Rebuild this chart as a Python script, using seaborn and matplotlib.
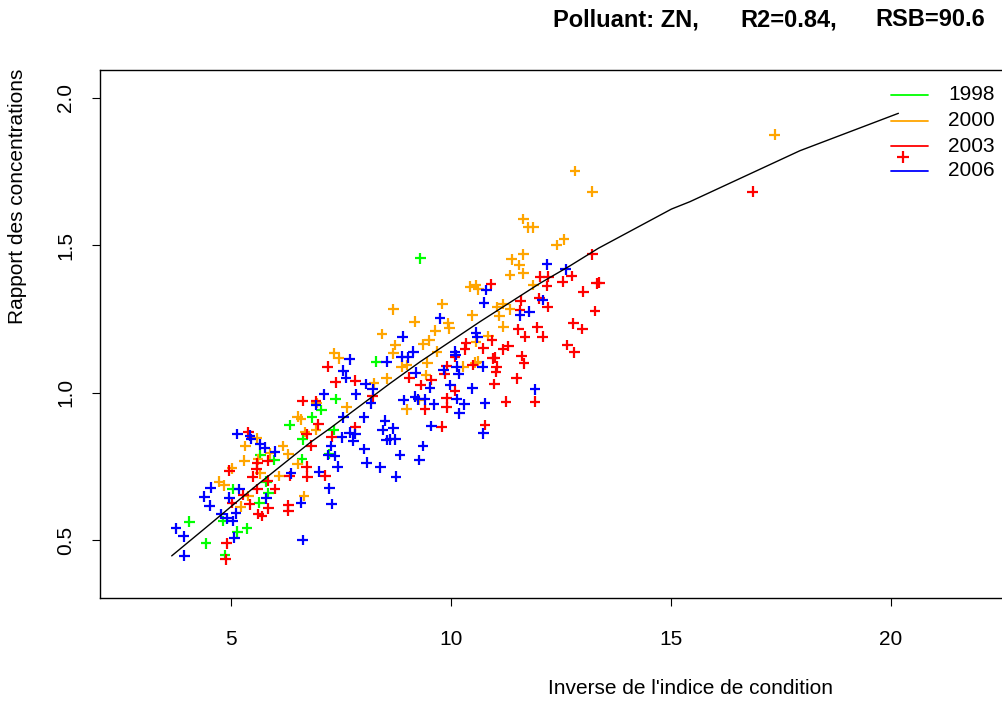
import pandas as pd
import matplotlib
matplotlib.use("Agg")
import matplotlib.pyplot as plt
from matplotlib.lines import Line2D
import seaborn as sns

# années et couleurs (style R)
years = ["1998", "2000", "2003", "2006"]
colors = ["#00FF00", "#FFA500", "#FF0000", "#0000FF"]

x_1998 = [6.84, 6.33, 6.63, 5.66, 5.98, 6.61, 5.04, 5.85, 5.64, 4.82, 4.05, 5.14,
          5.36, 4.43, 4.86, 5.80, 8.30, 7.38, 7.05, 7.33, 7.23, 9.30]
y_1998 = [0.916, 0.890, 0.842, 0.788, 0.771, 0.774, 0.673, 0.658, 0.626, 0.564, 0.562, 0.528,
          0.540, 0.489, 0.449, 0.698, 1.105, 0.978, 0.941, 0.873, 0.792, 1.456]

x_2000 = [6.51, 6.59, 5.58, 5.32, 6.18, 5.89, 6.30, 5.30, 5.61, 6.51, 5.02, 5.66,
          6.10, 4.73, 4.85, 5.39, 5.22, 6.66, 8.43, 7.35, 7.45, 8.25, 8.54, 6.95,
          6.68, 6.93, 7.63, 9.80, 8.69, 10.48, 9.17, 9.94, 9.96, 9.64, 8.73, 9.36,
          9.51, 10.57, 9.68, 8.69, 8.88, 8.99, 9.46, 10.28, 10.55, 10.62, 9.43, 9.28,
          8.99, 11.64, 11.76, 11.87, 12.57, 12.40, 11.38, 11.64, 11.55, 11.34, 11.64, 10.43,
          10.57, 10.62, 11.87, 11.05, 11.19, 11.34, 11.10, 11.19, 10.85, 12.82, 13.21, 17.36]
y_2000 = [0.918, 0.910, 0.845, 0.819, 0.819, 0.794, 0.792, 0.769, 0.774, 0.758, 0.743, 0.726,
          0.717, 0.698, 0.686, 0.649, 0.613, 0.649, 1.199, 1.133, 1.116, 1.032, 1.049, 0.965,
          0.866, 0.873, 0.950, 1.301, 1.283, 1.263, 1.241, 1.235, 1.218, 1.210, 1.162, 1.164,
          1.178, 1.173, 1.139, 1.133, 1.088, 1.094, 1.101, 1.088, 1.101, 1.105, 1.060, 0.975,
          0.943, 1.589, 1.561, 1.561, 1.520, 1.501, 1.452, 1.470, 1.433, 1.399, 1.405, 1.359,
          1.365, 1.351, 1.365, 1.291, 1.301, 1.283, 1.260, 1.224, 1.192, 1.752, 1.682, 1.876]

x_2003 = [5.39, 6.72, 5.83, 6.72, 5.60, 4.96, 5.58, 5.49, 6.33, 6.73, 5.83, 5.60,
          6.00, 5.28, 5.42, 5.02, 6.30, 5.85, 6.30, 5.62, 5.70, 4.90, 4.88, 7.20,
          7.38, 7.82, 8.22, 6.63, 6.93, 6.98, 7.29, 6.82, 7.14, 7.82, 10.34, 10.32,
          10.49, 9.90, 9.86, 9.05, 9.55, 9.31, 10.09, 9.90, 9.90, 9.41, 9.79, 12.02,
          12.21, 12.54, 12.18, 10.91, 12.01, 12.20, 11.58, 11.57, 11.53, 11.68, 11.96, 12.08,
          10.93, 10.73, 11.30, 11.18, 10.09, 10.95, 11.00, 11.04, 11.02, 10.98, 11.61, 11.66,
          11.49, 11.25, 11.91, 10.77, 12.64, 13.21, 12.74, 13.01, 13.31, 13.37, 13.27, 12.78,
          12.98, 12.80, 16.86]
y_2003 = [0.865, 0.860, 0.769, 0.749, 0.760, 0.735, 0.740, 0.715, 0.717, 0.715, 0.701, 0.673,
          0.673, 0.653, 0.621, 0.626, 0.619, 0.607, 0.598, 0.588, 0.581, 0.489, 0.434, 1.088,
          1.035, 1.040, 0.988, 0.972, 0.972, 0.892, 0.850, 0.820, 0.718, 0.883, 1.167, 1.147,
          1.094, 1.090, 1.063, 1.051, 1.043, 1.026, 1.006, 0.981, 0.950, 0.943, 0.884, 1.393,
          1.393, 1.376, 1.362, 1.369, 1.320, 1.291, 1.312, 1.280, 1.215, 1.190, 1.222, 1.190,
          1.178, 1.150, 1.158, 1.147, 1.121, 1.116, 1.118, 1.088, 1.071, 1.029, 1.124, 1.099,
          1.049, 0.969, 0.969, 0.890, 1.162, 1.470, 1.396, 1.342, 1.371, 1.373, 1.277, 1.235,
          1.216, 1.137, 1.682]

x_2006 = [5.14, 5.43, 5.45, 5.66, 5.77, 6.00, 6.36, 4.54, 5.19, 4.39, 4.96, 5.80,
          6.59, 4.51, 4.77, 5.11, 4.90, 5.04, 3.75, 3.92, 5.07, 6.63, 3.94, 7.70,
          8.54, 7.55, 7.61, 8.06, 8.22, 7.11, 7.84, 6.93, 8.18, 7.55, 8.02, 7.82,
          7.70, 7.52, 7.78, 8.50, 8.45, 8.54, 7.27, 7.21, 7.36, 8.03, 7.42, 8.08,
          8.39, 7.00, 7.23, 7.29, 9.75, 8.90, 10.57, 10.60, 10.09, 10.11, 9.14, 8.88,
          9.03, 9.83, 10.13, 10.17, 9.20, 9.52, 9.98, 10.48, 8.92, 9.18, 9.26, 9.41,
          10.13, 10.30, 9.61, 10.19, 8.69, 8.61, 8.73, 9.55, 9.36, 8.84, 9.28, 8.75,
          12.18, 12.61, 10.80, 10.75, 12.08, 11.57, 11.78, 10.72, 10.77, 11.91, 10.73]
y_2006 = [0.860, 0.854, 0.843, 0.825, 0.813, 0.799, 0.726, 0.677, 0.673, 0.647, 0.643, 0.641,
          0.626, 0.616, 0.588, 0.590, 0.573, 0.564, 0.540, 0.513, 0.508, 0.500, 0.447, 1.113,
          1.105, 1.074, 1.051, 1.029, 1.011, 0.994, 0.994, 0.958, 0.964, 0.916, 0.916, 0.860,
          0.864, 0.848, 0.837, 0.905, 0.873, 0.839, 0.819, 0.788, 0.785, 0.809, 0.749, 0.762,
          0.747, 0.732, 0.675, 0.622, 1.252, 1.190, 1.203, 1.188, 1.139, 1.128, 1.139, 1.122,
          1.120, 1.077, 1.088, 1.063, 1.068, 1.017, 1.026, 1.015, 0.975, 0.986, 0.977, 0.977,
          0.978, 0.961, 0.961, 0.930, 0.879, 0.842, 0.842, 0.887, 0.819, 0.788, 0.771, 0.715,
          1.435, 1.418, 1.348, 1.305, 1.314, 1.263, 1.275, 1.088, 0.964, 1.011, 0.862]

# courbe ajustée
curve_x = [3.65, 4.50, 5.47, 6.80, 7.25, 8.61, 9.30, 10.66, 12.02, 12.70, 13.35,
           15.01, 15.43, 17.93, 20.17]
curve_y = [0.446, 0.551, 0.672, 0.831, 0.879, 1.031, 1.105, 1.241, 1.371, 1.430, 1.490,
           1.623, 1.648, 1.821, 1.948]

xs = [x_1998, x_2000, x_2003, x_2006]
ys = [y_1998, y_2000, y_2003, y_2006]
df = pd.concat([pd.DataFrame({"x": xs[i], "y": ys[i], "annee": years[i]}) for i in range(4)],
               ignore_index=True)
curve = pd.DataFrame({"x": curve_x, "y": curve_y})

sns.set_style("ticks")
plt.rcParams["font.family"] = ["Liberation Sans", "DejaVu Sans"]
plt.rcParams["text.color"] = "black"
plt.rcParams["axes.labelcolor"] = "black"
plt.rcParams["xtick.color"] = "black"
plt.rcParams["ytick.color"] = "black"

W, H = 1003, 702
fig = plt.figure(figsize=(W / 100, H / 100), dpi=100)
ax = fig.add_axes([100 / W, 1 - 598 / H, 1182 / W, 528 / H])

sns.scatterplot(data=df, x="x", y="y", hue="annee", palette=dict(zip(years, colors)),
                marker="+", s=60, linewidth=1.6, legend=False, ax=ax)
sns.lineplot(data=curve, x="x", y="y", color="black", linewidth=1.0, sort=False,
             estimator=None, ax=ax)

ax.set_xlim(2.02, 28.89)
ax.set_ylim(0.303, 2.095)
ax.set_xticks([5, 10, 15, 20])
ax.set_yticks([0.5, 1.0, 1.5, 2.0])
ax.set_yticklabels(["0.5", "1.0", "1.5", "2.0"])
ax.set_xlabel("")
ax.set_ylabel("")
for sp in ax.spines.values():
    sp.set_color("black")
    sp.set_linewidth(1.0)
ax.tick_params(axis="both", direction="out", length=6, width=0.8, colors="black",
               labelcolor="black", labelsize=15)
ax.tick_params(axis="x", pad=17)
ax.tick_params(axis="y", pad=12, labelrotation=90)
for lab in ax.get_yticklabels():
    lab.set_va("center")

# titres
fig.text(553 / W, 1 - 20 / H, "Polluant: ZN,", fontsize=17, fontweight="bold", va="center")
fig.text(740 / W, 1 - 20 / H, "R2=0.84,", fontsize=17, fontweight="bold", va="center")
fig.text(875 / W, 1 - 20 / H, "RSB=90.6", fontsize=17, fontweight="bold", va="center")
fig.text(691 / W, 1 - 688 / H, "Inverse de l'indice de condition", fontsize=15,
         ha="center", va="center")
fig.text(18 / W, 1 - 196 / H, "Rapport des concentrations", fontsize=15, rotation=90,
         ha="center", va="center")

# légende manuelle façon R
leg_y = [95, 121, 146, 171]
for yy, c, lab in zip(leg_y, colors, years):
    fig.add_artist(Line2D([891 / W, 928 / W], [1 - yy / H, 1 - yy / H], color=c, lw=1.3))
    fig.text(948 / W, 1 - yy / H, lab, fontsize=15, va="center")
fig.add_artist(Line2D([903 / W], [1 - 157 / H], color="#FF0000", marker="+",
                      markersize=8, markeredgewidth=1.6, lw=0))

fig.savefig("out.png", dpi=100)
